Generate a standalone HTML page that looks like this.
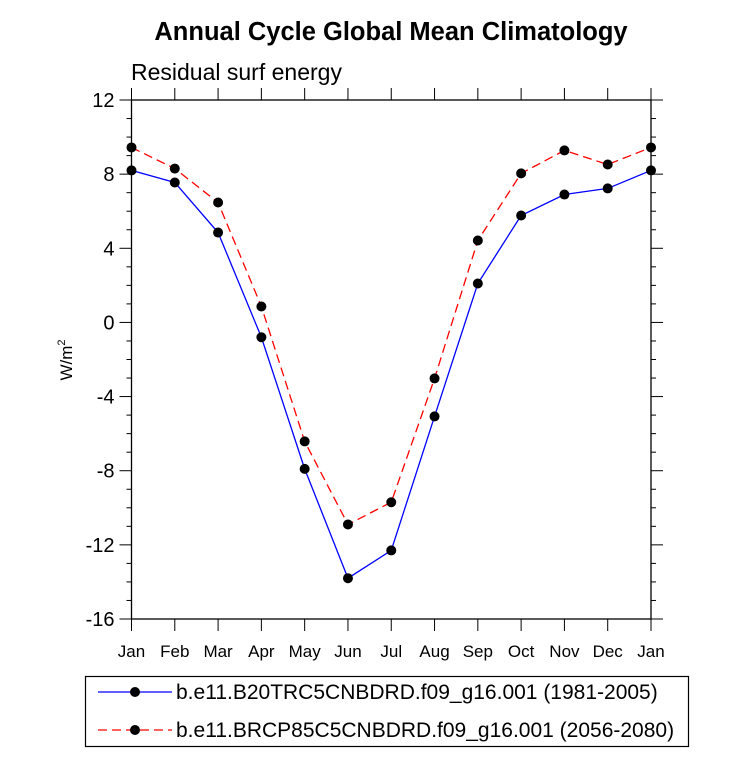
<!DOCTYPE html>
<html><head><meta charset="utf-8"><style>
body{margin:0;background:#fff;}
svg{display:block;font-family:"Liberation Sans",Arial,sans-serif;}
</style></head><body>
<svg id="chart" width="733" height="768">
<text x="391" y="40" text-anchor="middle" font-size="25.5" font-weight="bold">Annual Cycle Global Mean Climatology</text>
<text x="131" y="80" font-size="23">Residual surf energy</text>
<text transform="translate(72,360) rotate(-90)" text-anchor="middle" font-size="17">W/m<tspan dy="-7" font-size="11">2</tspan></text>
<g id="axes"></g>
<g id="series"></g>
<g>
<rect x="85.5" y="676.5" width="603" height="70" fill="none" stroke="#000" stroke-width="1.2"/>
<g>
<line x1="98" y1="692" x2="172" y2="692" stroke="#0000ff" stroke-width="1.3"/>
<circle cx="135" cy="692" r="5" fill="#000"/>
<text x="176" y="699" font-size="21">b.e11.B20TRC5CNBDRD.f09_g16.001 (1981-2005)</text>
</g>
<g>
<line x1="98" y1="730" x2="172" y2="730" stroke="#ff0000" stroke-width="1.3" stroke-dasharray="9,5"/>
<circle cx="135" cy="730" r="5" fill="#000"/>
<text x="176" y="737" font-size="21">b.e11.BRCP85C5CNBDRD.f09_g16.001 (2056-2080)</text>
</g>
</g>
</svg>
<script>
const months = ["Jan","Feb","Mar","Apr","May","Jun","Jul","Aug","Sep","Oct","Nov","Dec","Jan"];
const histValues = [8.2,7.55,4.85,-0.8,-7.9,-13.8,-12.3,-5.07,2.1,5.77,6.9,7.23,8.2];
const rcpValues = [9.44,8.3,6.47,0.86,-6.42,-10.9,-9.7,-3.02,4.42,8.04,9.28,8.52,9.44];
const yTicks = [12,8,4,0,-4,-8,-12,-16];

const X0=131.5,X1=651,Y0=100,Y1=619,YMAX=12,YMIN=-16;
const xs=i=>X0+(X1-X0)*i/(months.length-1);
const ys=v=>Y0+(YMAX-v)/(YMAX-YMIN)*(Y1-Y0);
const NS="http://www.w3.org/2000/svg";
function mk(tag,attrs,parent){const e=document.createElementNS(NS,tag);for(const k in attrs)e.setAttribute(k,attrs[k]);parent.appendChild(e);return e;}
const axes=document.getElementById('axes');
const frame=mk('rect',{x:X0,y:Y0,width:X1-X0,height:Y1-Y0,fill:'none',stroke:'#000','stroke-width':1.3},axes);


for(let v=YMIN;v<=YMAX;v++){
  const y=ys(v);const major=yTicks.includes(v);const L=major?12:5;
  mk('line',{x1:X0-L,y1:y,x2:X0,y2:y,stroke:'#000','stroke-width':1},axes);
  mk('line',{x1:X1,y1:y,x2:X1+L,y2:y,stroke:'#000','stroke-width':1},axes);
}
yTicks.forEach(v=>{
  const t=mk('text',{x:X0-17,y:ys(v)+7,'text-anchor':'end','font-size':20},axes);
  t.textContent=v;
  
  
});
months.forEach((m,i)=>{
  const x=xs(i);
  mk('line',{x1:x,y1:Y0-12,x2:x,y2:Y0,stroke:'#000','stroke-width':1},axes);
  mk('line',{x1:x,y1:Y1,x2:x,y2:Y1+12,stroke:'#000','stroke-width':1},axes);
  const t=mk('text',{x:x,y:657,'text-anchor':'middle','font-size':17},axes);
  t.textContent=m;
  
  
});
const series=document.getElementById('series');
function draw(vals,color,dash,name){
  const g=mk('g',{},series);
  
  
  const pl=mk('polyline',{points:vals.map((v,i)=>xs(i)+','+ys(v)).join(' '),fill:'none',stroke:color,'stroke-width':1.3},g);
  if(dash)pl.setAttribute('stroke-dasharray',dash);
  vals.forEach((v,i)=>{
    const c=mk('circle',{cx:xs(i),cy:ys(v),r:5,fill:'#000'},g);
    
    
  });
}
draw(rcpValues,'#ff0000','9,5','series-rcp85');
draw(histValues,'#0000ff',null,'series-historical');
</script>
</body></html>
